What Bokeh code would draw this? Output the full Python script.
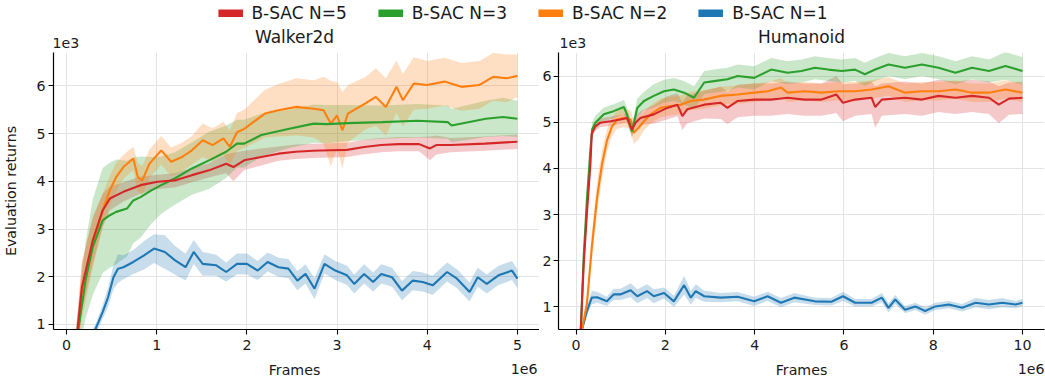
import numpy as np
from bokeh.plotting import figure
from bokeh.models import Range1d, FixedTicker, Legend, LegendItem
from bokeh.layouts import column, row
from bokeh.embed import file_html
from bokeh.resources import INLINE
from bokeh.core.properties import value

FONT = "DejaVu Sans"
TXT = "#1a1a1a"
SMALL = "14.2px"
LARGE = "17px"

series_names = ["B-SAC N=5", "B-SAC N=3", "B-SAC N=2", "B-SAC N=1"]
series_colors = ["#d62728", "#2ca02c", "#ff7f0e", "#1f77b4"]
panel_titles = ["Walker2d", "Humanoid"]
x_label = "Frames"
y_label = "Evaluation returns"
x_offset_text = "1e6"
y_offset_text = "1e3"

# ---------------- Walker2d (x in 1e6 frames, y in 1e3 returns) ----------------
walker_n5_x = [0.10,0.17,0.29,0.40,0.48,0.63,0.82,1.01,1.20,1.39,1.58,1.77,1.85,1.97,2.16,2.35,2.54,2.73,2.92,3.11,3.30,3.49,3.68,3.91,4.03,4.10,4.26,4.64,5.00]
walker_n5_y = [0.50,1.78,2.76,3.39,3.64,3.78,3.92,3.99,4.02,4.13,4.23,4.37,4.30,4.44,4.51,4.58,4.62,4.64,4.65,4.66,4.72,4.76,4.78,4.78,4.69,4.76,4.76,4.79,4.83]
walker_n5_s = [0.3,0.5,0.5,0.35,0.25,0.2,0.18,0.15,0.15,0.15,0.15,0.2,0.3,0.2,0.18,0.15,0.15,0.15,0.15,0.15,0.15,0.15,0.15,0.15,0.25,0.2,0.15,0.15,0.15]

walker_n3_x = [0.10,0.21,0.29,0.40,0.48,0.55,0.67,0.74,0.82,0.94,1.05,1.20,1.39,1.58,1.77,1.89,1.97,2.16,2.47,2.74,2.89,3.12,3.50,3.89,4.23,4.27,4.65,4.84,5.00]
walker_n3_y = [0.50,1.92,2.62,3.18,3.29,3.36,3.43,3.60,3.67,3.81,3.92,4.06,4.27,4.44,4.62,4.79,4.79,4.97,5.10,5.21,5.20,5.22,5.24,5.27,5.24,5.17,5.31,5.35,5.31]
walker_n3_s = [0.3,0.8,1.0,1.1,1.1,1.1,1.0,0.9,0.85,0.7,0.6,0.55,0.55,0.6,0.55,0.5,0.5,0.45,0.4,0.4,0.4,0.38,0.35,0.35,0.35,0.35,0.38,0.4,0.38]

walker_n2_x = [0.10,0.17,0.29,0.40,0.48,0.55,0.63,0.74,0.79,0.84,0.92,1.05,1.16,1.28,1.39,1.51,1.62,1.74,1.81,1.89,1.97,2.20,2.35,2.55,2.74,2.85,2.93,3.00,3.06,3.12,3.31,3.43,3.54,3.66,3.73,3.85,4.00,4.19,4.38,4.58,4.73,4.88,5.00]
walker_n2_y = [0.40,1.71,2.69,3.39,3.81,4.09,4.30,4.48,4.09,4.02,4.37,4.65,4.41,4.51,4.65,4.86,4.76,4.90,4.72,5.03,5.10,5.42,5.49,5.56,5.52,5.49,5.21,5.38,5.07,5.42,5.63,5.77,5.56,5.98,5.70,6.05,6.02,6.09,5.98,6.02,6.19,6.16,6.21]
walker_n2_s = [0.3,0.6,0.5,0.35,0.3,0.3,0.25,0.25,0.3,0.3,0.3,0.3,0.3,0.3,0.3,0.35,0.35,0.35,0.35,0.4,0.4,0.5,0.55,0.6,0.6,0.7,0.9,0.7,0.8,0.6,0.55,0.6,0.6,0.55,0.55,0.55,0.5,0.5,0.5,0.5,0.5,0.5,0.45]

walker_n1_x = [0.10,0.20,0.32,0.40,0.46,0.52,0.57,0.63,0.74,0.86,0.97,1.09,1.20,1.32,1.41,1.51,1.66,1.77,1.89,2.00,2.12,2.23,2.35,2.46,2.56,2.65,2.75,2.86,2.98,3.11,3.19,3.30,3.40,3.49,3.61,3.72,3.84,3.95,4.06,4.22,4.33,4.47,4.56,4.66,4.79,4.94,5.00]
walker_n1_y = [0.30,0.55,0.90,1.26,1.57,1.99,2.17,2.20,2.31,2.45,2.59,2.52,2.35,2.20,2.52,2.27,2.24,2.10,2.27,2.27,2.13,2.31,2.20,2.17,1.92,2.06,1.75,2.27,2.13,2.03,1.85,2.06,1.89,2.06,1.99,1.71,1.92,1.89,1.82,2.10,1.96,1.68,1.99,1.85,2.03,2.13,1.96]
walker_n1_s = [0.05,0.08,0.10,0.15,0.2,0.25,0.3,0.25,0.25,0.3,0.3,0.35,0.3,0.28,0.25,0.25,0.22,0.2,0.22,0.22,0.2,0.2,0.2,0.2,0.2,0.2,0.22,0.2,0.2,0.2,0.2,0.2,0.2,0.2,0.2,0.2,0.2,0.2,0.2,0.2,0.2,0.2,0.2,0.2,0.2,0.2,0.2]

# ---------------- Humanoid ----------------
human_n5_x = [0.10,0.17,0.24,0.32,0.35,0.43,0.54,0.77,0.99,1.14,1.25,1.33,1.44,1.74,2.04,2.27,2.38,2.49,2.87,3.24,3.39,3.62,3.99,4.37,4.74,5.12,5.50,5.83,5.98,6.25,6.62,6.70,6.85,7.37,7.75,8.12,8.50,8.87,9.25,9.47,9.70,10.00]
human_n5_y = [0.40,1.92,3.00,4.09,4.75,4.91,4.99,5.02,5.06,5.09,4.84,4.99,5.09,5.17,5.31,5.38,5.13,5.28,5.38,5.42,5.31,5.46,5.49,5.49,5.53,5.49,5.49,5.60,5.42,5.49,5.53,5.33,5.49,5.53,5.49,5.57,5.53,5.57,5.53,5.38,5.51,5.53]
human_n5_s = [0.1,0.15,0.15,0.15,0.1,0.1,0.1,0.1,0.1,0.1,0.15,0.15,0.15,0.2,0.25,0.25,0.3,0.3,0.3,0.35,0.35,0.35,0.35,0.35,0.35,0.35,0.35,0.4,0.4,0.35,0.35,0.45,0.35,0.35,0.35,0.35,0.35,0.35,0.35,0.4,0.35,0.35]

human_n3_x = [0.10,0.17,0.24,0.32,0.36,0.43,0.62,0.84,1.07,1.14,1.25,1.37,1.52,1.74,1.97,2.19,2.42,2.64,2.87,3.09,3.39,3.62,3.99,4.37,4.74,5.05,5.35,5.65,5.95,6.25,6.47,6.70,7.00,7.37,7.75,8.12,8.50,8.87,9.25,9.62,10.00]
human_n3_y = [0.40,2.10,3.30,4.40,4.85,4.99,5.17,5.24,5.33,5.17,4.80,5.31,5.46,5.57,5.67,5.71,5.64,5.53,5.86,5.89,5.93,6.00,5.96,6.14,6.07,6.11,6.18,6.14,6.11,6.14,6.04,6.14,6.25,6.18,6.25,6.18,6.07,6.18,6.11,6.22,6.11]
human_n3_s = [0.1,0.15,0.15,0.15,0.15,0.15,0.15,0.15,0.15,0.15,0.15,0.2,0.2,0.25,0.25,0.25,0.25,0.25,0.25,0.25,0.25,0.25,0.25,0.25,0.25,0.25,0.25,0.25,0.25,0.25,0.25,0.25,0.25,0.25,0.25,0.25,0.25,0.25,0.25,0.3,0.3]

human_n2_x = [0.10,0.24,0.35,0.47,0.58,0.69,0.80,0.92,1.07,1.22,1.29,1.40,1.52,1.67,1.89,2.12,2.34,2.57,2.87,3.24,3.62,3.99,4.29,4.59,4.74,5.12,5.50,5.87,6.25,6.62,7.00,7.37,7.75,8.12,8.50,8.87,9.25,9.62,10.00]
human_n2_y = [0.35,1.05,2.28,3.37,4.09,4.60,4.90,5.06,5.09,5.06,4.77,4.88,5.02,5.17,5.31,5.35,5.38,5.46,5.49,5.57,5.60,5.64,5.67,5.75,5.64,5.67,5.64,5.67,5.67,5.71,5.78,5.64,5.67,5.67,5.71,5.64,5.64,5.71,5.64]
human_n2_s = [0.1,0.2,0.3,0.35,0.3,0.25,0.2,0.2,0.2,0.2,0.25,0.25,0.2,0.2,0.2,0.2,0.2,0.2,0.2,0.2,0.2,0.2,0.2,0.2,0.2,0.2,0.2,0.2,0.2,0.2,0.2,0.2,0.2,0.2,0.2,0.2,0.2,0.2,0.2]

human_n1_x = [0.10,0.24,0.35,0.47,0.69,0.84,0.99,1.22,1.37,1.59,1.74,1.97,2.19,2.42,2.57,2.68,2.87,3.24,3.62,3.99,4.29,4.59,4.89,5.35,5.72,5.98,6.25,6.62,6.85,7.00,7.15,7.37,7.60,7.82,8.05,8.35,8.65,8.95,9.25,9.55,9.85,10.00]
human_n1_y = [0.40,0.90,1.20,1.21,1.12,1.27,1.27,1.36,1.23,1.34,1.23,1.30,1.12,1.47,1.20,1.34,1.23,1.20,1.22,1.12,1.23,1.09,1.20,1.12,1.11,1.23,1.09,1.09,1.20,0.98,1.16,0.94,1.01,0.91,1.01,1.05,0.98,1.09,1.05,1.09,1.05,1.09]
human_n1_s = [0.05,0.1,0.15,0.12,0.1,0.12,0.12,0.15,0.15,0.15,0.15,0.12,0.12,0.2,0.15,0.15,0.12,0.1,0.1,0.1,0.1,0.1,0.1,0.08,0.08,0.1,0.08,0.08,0.1,0.1,0.1,0.08,0.08,0.08,0.08,0.08,0.08,0.1,0.1,0.1,0.08,0.08]

walker_x_ticks = [0, 1, 2, 3, 4, 5]
human_x_ticks = [0, 2, 4, 6, 8, 10]
y_ticks = [1, 2, 3, 4, 5, 6]

walker_series = [(walker_n5_x, walker_n5_y, walker_n5_s), (walker_n3_x, walker_n3_y, walker_n3_s),
                 (walker_n2_x, walker_n2_y, walker_n2_s), (walker_n1_x, walker_n1_y, walker_n1_s)]
human_series = [(human_n5_x, human_n5_y, human_n5_s), (human_n3_x, human_n3_y, human_n3_s),
                (human_n2_x, human_n2_y, human_n2_s), (human_n1_x, human_n1_y, human_n1_s)]

# ---------------- layout geometry (pixels) ----------------
W = 1045
HEADER_H = 52
FRAME_W = 486
FRAME_H = 277
BOTTOM_B = 29
FOOTER_H = 379 - HEADER_H - FRAME_H - BOTTOM_B
P1_LEFT = 51
P1_RIGHT = 0
P2_LEFT_POS = 558  # frame left of second panel on the page


def make_panel(xr, yr, xticks, series, left, right, ylabel=None, ystandoff=3):
    p = figure(frame_width=FRAME_W, frame_height=FRAME_H, x_range=Range1d(*xr), y_range=Range1d(*yr),
               output_backend="svg", toolbar_location=None, title=None,
               min_border_left=left, min_border_right=right, min_border_top=0,
               min_border_bottom=BOTTOM_B)
    p.outline_line_color = None
    for ax in (p.xaxis[0], p.yaxis[0]):
        ax.axis_line_color = "black"
        ax.axis_line_width = 1.2
        ax.major_tick_line_color = "black"
        ax.major_tick_line_width = 1.1
        ax.major_tick_out = 5
        ax.major_tick_in = 0
        ax.minor_tick_line_color = None
        ax.major_label_text_font = FONT
        ax.major_label_text_font_size = SMALL
        ax.major_label_text_color = TXT
        ax.axis_label_text_font = FONT
        ax.axis_label_text_font_size = SMALL
        ax.axis_label_text_font_style = "normal"
        ax.axis_label_text_color = TXT
    p.xaxis.ticker = FixedTicker(ticks=xticks)
    p.yaxis.ticker = FixedTicker(ticks=y_ticks)
    p.xaxis.major_label_standoff = 5
    p.yaxis.major_label_standoff = ystandoff
    if ylabel:
        p.yaxis.axis_label = ylabel
        p.yaxis.axis_label_standoff = 14
    else:
        p.yaxis.axis_label_standoff = 0
    p.grid.grid_line_color = "#e3e3e3"
    p.grid.grid_line_width = 1

    for (x, y, s), c in zip(series, series_colors):
        xa = np.array(x); ya = np.array(y); sa = np.array(s)
        p.varea(x=xa, y1=ya - sa, y2=ya + sa, fill_color=c, fill_alpha=0.25)
    for (x, y, s), c in reversed(list(zip(series, series_colors))):
        p.line(x=x, y=y, line_color=c, line_width=2.1)
    return p


p1 = make_panel((-0.145, 5.245), (0.895, 6.70), walker_x_ticks, walker_series,
                P1_LEFT, P1_RIGHT, ylabel=y_label)
p2 = make_panel((-0.395, 10.495), (0.51, 6.51), human_x_ticks, human_series, 0, 1, ystandoff=2)

# frame positions on the page, used to place the header / footer texts
f1_l, f1_r = P1_LEFT, P1_LEFT + FRAME_W
f2_l, f2_r = P2_LEFT_POS, P2_LEFT_POS + FRAME_W

# ---------------- header: legend, panel titles, y offset texts ----------------
head = figure(width=W, height=HEADER_H, x_range=Range1d(0, W), y_range=Range1d(HEADER_H, 0),
              output_backend="svg", toolbar_location=None, min_border=0,
              x_axis_location=None, y_axis_location=None)
head.outline_line_color = None
head.grid.visible = False
items = []
for name, c in zip(series_names, series_colors):
    r = head.line(x=[-50, -40], y=[-50, -50], line_color=c, line_width=8, line_cap="butt")
    items.append(LegendItem(label=name, renderers=[r]))
legend = Legend(items=items, orientation="horizontal", location="top_center",
                border_line_color=None, background_fill_alpha=0,
                label_text_font=FONT, label_text_font_size=LARGE, label_text_color=TXT,
                glyph_width=25, glyph_height=8, label_height=18, label_standoff=9, spacing=31,
                padding=0, margin=3)
head.add_layout(legend, "center")
head.text(x=[(f1_l + f1_r) / 2, (f2_l + f2_r) / 2], y=[36, 36], text=panel_titles,
          text_align="center", text_baseline="middle", text_font=value(FONT),
          text_font_size=LARGE, text_color=TXT)
head.text(x=[f1_l + 1, f2_l + 1], y=[42, 42], text=[y_offset_text, y_offset_text],
          text_align="left", text_baseline="middle", text_font=value(FONT),
          text_font_size=SMALL, text_color=TXT)

# ---------------- footer: x axis labels and x offset texts ----------------
foot = figure(width=W, height=FOOTER_H, x_range=Range1d(0, W), y_range=Range1d(FOOTER_H, 0),
              output_backend="svg", toolbar_location=None, min_border=0,
              x_axis_location=None, y_axis_location=None)
foot.outline_line_color = None
foot.grid.visible = False
foot.text(x=[(f1_l + f1_r) / 2, (f2_l + f2_r) / 2], y=[11, 11], text=[x_label, x_label],
          text_align="center", text_baseline="middle", text_font=value(FONT),
          text_font_size=SMALL, text_color=TXT)
foot.text(x=[f1_r, f2_r], y=[10, 10], text=[x_offset_text, x_offset_text],
          text_align="right", text_baseline="middle", text_font=value(FONT),
          text_font_size=SMALL, text_color=TXT)

layout = column(head, row(p1, p2, spacing=0), foot, spacing=0)
open("out.html", "w").write(file_html(layout, INLINE))
